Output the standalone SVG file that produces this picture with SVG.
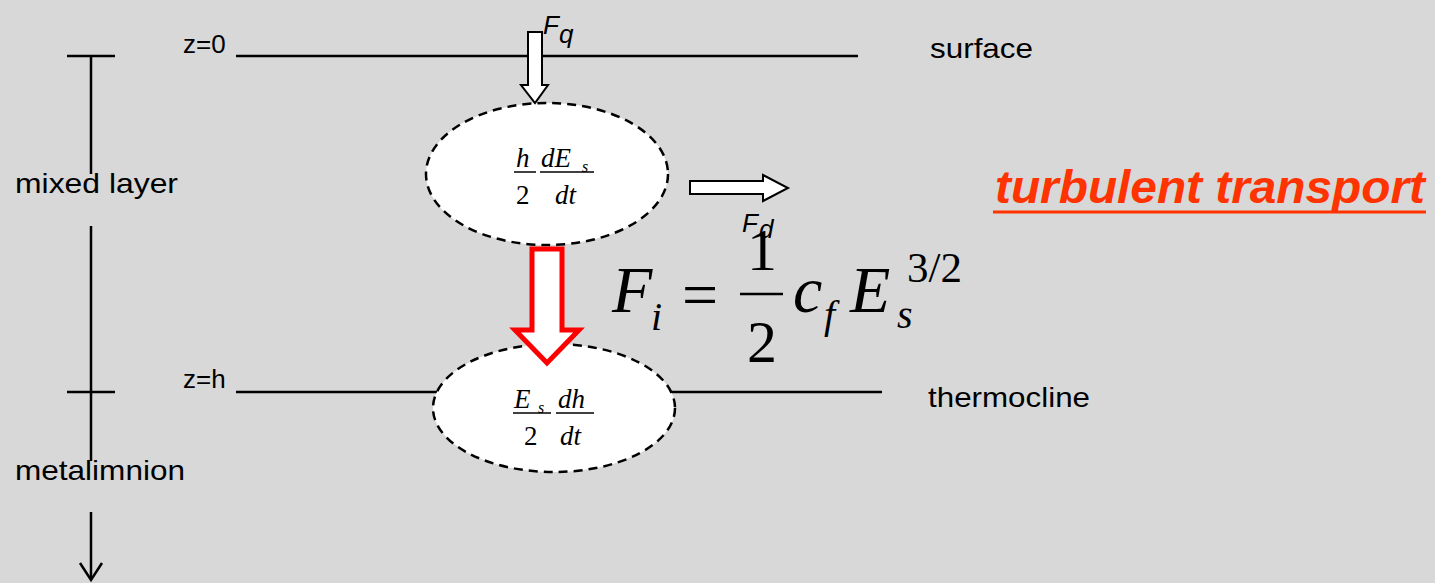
<svg xmlns="http://www.w3.org/2000/svg" width="1435" height="583" viewBox="0 0 1435 583">
<defs>
<style>
.lbl{font-family:"Liberation Sans",Arial,sans-serif;font-size:26px;fill:#000}
.big{font-size:28px}
.m{font-family:"Liberation Serif","Times New Roman",serif;font-style:italic;fill:#000}
.u{font-family:"Liberation Serif","Times New Roman",serif;fill:#000}
.ln{stroke:#000;stroke-width:2.5;fill:none}
.ell{fill:#fff;stroke:#000;stroke-width:2.5;stroke-dasharray:9 6}
.bar{stroke:#000;stroke-width:1.5}
</style>
</defs>
<rect x="0" y="0" width="1435" height="583" fill="#d8d8d8"/>
<g id="connectors">
<line class="ln" x1="236" y1="56" x2="858" y2="56"/>
<line class="ln" x1="236" y1="392" x2="882" y2="392"/>
<line class="ln" x1="67" y1="56" x2="115" y2="56"/>
<line class="ln" x1="91" y1="56" x2="91" y2="174"/>
<line class="ln" x1="91" y1="226" x2="91" y2="461"/>
<line class="ln" x1="67" y1="392" x2="115" y2="392"/>
<line class="ln" x1="91" y1="512" x2="91" y2="579" stroke-width="2"/>
<polyline class="ln" stroke-width="2" points="80,563 91,580 102,563"/>
</g>
<g id="labels">
<text class="lbl" x="183" y="53">z=0</text>
<text class="lbl" x="183" y="388">z=h</text>
<text class="lbl big" x="930" y="58" textLength="103" lengthAdjust="spacingAndGlyphs">surface</text>
<text class="lbl big" x="928" y="407" textLength="162" lengthAdjust="spacingAndGlyphs">thermocline</text>
<text class="lbl big" x="15" y="193" textLength="163" lengthAdjust="spacingAndGlyphs">mixed layer</text>
<text class="lbl big" x="15" y="480" textLength="170" lengthAdjust="spacingAndGlyphs">metalimnion</text>
</g>
<g id="ellipse-top">
<ellipse class="ell" cx="547" cy="174" rx="121" ry="71"/>
<text class="m" x="516" y="167" font-size="27">h</text>
<line class="bar" x1="514" y1="172" x2="536" y2="172"/>
<text class="u" x="516" y="204" font-size="27">2</text>
<text class="m" x="541" y="167" font-size="27">dE</text>
<text class="m" x="582" y="172" font-size="16">s</text>
<line class="bar" x1="540" y1="172" x2="594" y2="172"/>
<text class="m" x="555" y="204" font-size="27">dt</text>
</g>
<g id="ellipse-bottom">
<ellipse class="ell" cx="554" cy="408" rx="121" ry="64"/>
<text class="m" x="514" y="408" font-size="27">E</text>
<text class="m" x="538" y="413" font-size="16">s</text>
<line class="bar" x1="513" y1="413" x2="551" y2="413"/>
<text class="u" x="524" y="445" font-size="27">2</text>
<text class="m" x="558" y="408" font-size="27">dh</text>
<line class="bar" x1="556" y1="413" x2="594" y2="413"/>
<text class="m" x="560" y="445" font-size="27">dt</text>
</g>
<g id="arrow-fq">
<polygon points="528,32 542,32 542,85 548,85 535,103 521,85 528,85" fill="#fff" stroke="#000" stroke-width="2"/>
<text class="lbl" x="543" y="34" font-size="25" font-style="italic">F</text>
<text class="lbl" x="559" y="43" font-size="17" font-style="italic">q</text>
</g>
<g id="arrow-fd">
<polygon points="690,181 763,181 763,175 788,188 763,201 763,194 690,194" fill="#fff" stroke="#000" stroke-width="2"/>
<text class="lbl" x="742" y="232" font-size="25" font-style="italic">F</text>
<text class="lbl" x="759" y="238" font-size="17" font-style="italic">d</text>
</g>
<g id="arrow-fi">
<polygon points="532,249 562,249 562,330 579,330 547,363 515,330 532,330" fill="#fff" stroke="#ff0000" stroke-width="5"/>
</g>
<g id="equation">
<text class="m" x="612" y="312" font-size="66">F</text>
<text class="m" x="651" y="330" font-size="40">i</text>
<text class="u" x="682" y="316" font-size="64" font-weight="normal">=</text>
<line x1="740" y1="294" x2="783" y2="294" stroke="#000" stroke-width="2.5"/>
<text class="u" x="762" y="270" font-size="60" text-anchor="middle">1</text>
<text class="u" x="762" y="362" font-size="60" text-anchor="middle">2</text>
<text class="m" x="793" y="312" font-size="66">c</text>
<text class="m" x="824" y="328" font-size="40">f</text>
<text class="m" x="850" y="312" font-size="66">E</text>
<text class="m" x="897" y="328" font-size="40">s</text>
<text class="u" x="907" y="282" font-size="43">3/2</text>
</g>
<g id="title">
<text x="995" y="203" font-family="'Liberation Sans',Arial,sans-serif" font-size="47" font-weight="bold" font-style="italic" fill="#ff3300" textLength="430" lengthAdjust="spacingAndGlyphs">turbulent transport</text>
<line x1="993" y1="212" x2="1426" y2="212" stroke="#ff3300" stroke-width="3"/>
</g>
</svg>
